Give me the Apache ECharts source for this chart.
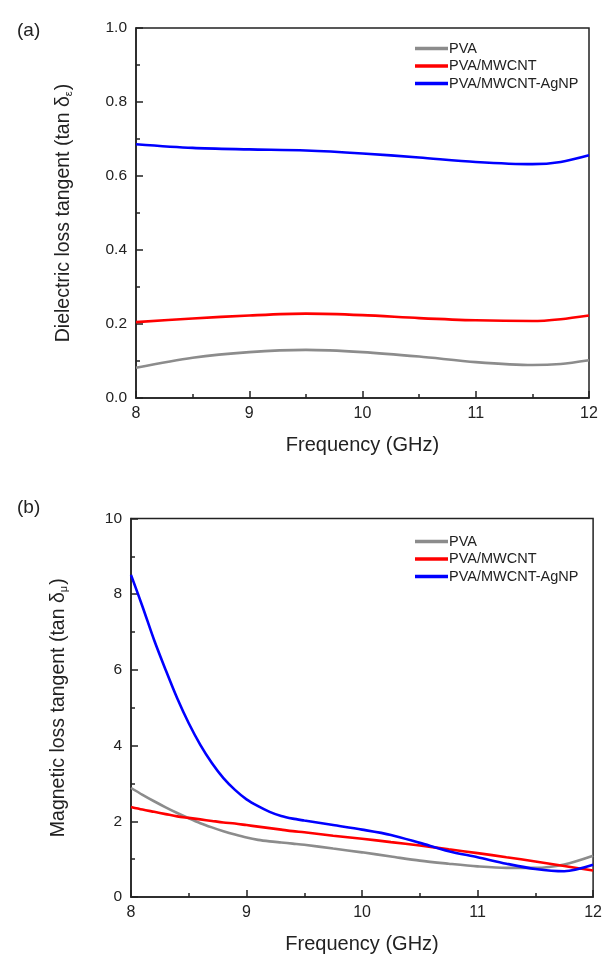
<!DOCTYPE html>
<html>
<head>
<meta charset="utf-8">
<script src="https://cdn.jsdelivr.net/npm/echarts@6/dist/echarts.min.js"></script>
<style>
  html, body { margin: 0; padding: 0; background: #fff; }
  #chart { width: 605px; height: 955px; }
</style>
</head>
<body>
<div id="chart"></div>
<script>
var chart = echarts.init(document.getElementById('chart'));

var seriesNames = ['PVA', 'PVA/MWCNT', 'PVA/MWCNT-AgNP'];
var seriesColors = ['#8c8c8c', '#ff0000', '#0000ff'];

// (a) dielectric loss tangent
var freqA = [8, 8.5, 9, 9.5, 10, 10.5, 11, 11.5, 11.75, 12];
var pvaA = [0.082, 0.109, 0.124, 0.130, 0.124, 0.112, 0.097, 0.089, 0.092, 0.102];
var mwcntA = [0.205, 0.215, 0.223, 0.228, 0.224, 0.216, 0.210, 0.208, 0.213, 0.223];
var agnpA = [0.686, 0.676, 0.672, 0.669, 0.661, 0.650, 0.638, 0.632, 0.638, 0.656];

// (b) magnetic loss tangent
var freqB = [8, 8.1, 8.2, 8.3, 8.4, 8.5, 8.6, 8.7, 8.8, 8.9, 9, 9.1, 9.2, 9.3, 9.4, 9.5, 9.75, 10, 10.25, 10.5, 10.75, 11, 11.25, 11.5, 11.75, 12];
var pvaB = [2.88, 2.70, 2.53, 2.37, 2.22, 2.08, 1.95, 1.84, 1.74, 1.65, 1.57, 1.51, 1.47, 1.44, 1.41, 1.38, 1.28, 1.18, 1.07, 0.96, 0.88, 0.81, 0.77, 0.77, 0.86, 1.09];
var mwcntB = [2.38, 2.31, 2.25, 2.19, 2.13, 2.09, 2.05, 2.01, 1.97, 1.94, 1.90, 1.86, 1.82, 1.78, 1.74, 1.71, 1.62, 1.54, 1.45, 1.36, 1.26, 1.16, 1.05, 0.94, 0.82, 0.70];
var agnpB = [8.51, 7.67, 6.79, 6.00, 5.25, 4.59, 4.02, 3.54, 3.14, 2.83, 2.58, 2.40, 2.25, 2.14, 2.07, 2.02, 1.90, 1.78, 1.64, 1.43, 1.21, 1.05, 0.88, 0.74, 0.68, 0.85];

var font = 'Liberation Sans, Arial, sans-serif';
var axisColor = '#222';

function pairs(xs, ys) {
  return xs.map(function (x, i) { return [x, ys[i]]; });
}

function xAxisCfg(gridIndex) {
  return {
    type: 'value', gridIndex: gridIndex, min: 8, max: 12, interval: 1,
    name: 'Frequency (GHz)', nameLocation: 'middle', nameGap: 37,
    nameTextStyle: { fontFamily: font, fontSize: 20, color: axisColor },
    axisLine: { onZero: false, lineStyle: { color: axisColor, width: 1.5 } },
    axisTick: { inside: true, length: 7, lineStyle: { color: axisColor, width: 1.5 } },
    minorTick: { show: true, splitNumber: 2, length: 4, lineStyle: { color: axisColor, width: 1.5 } },
    axisLabel: { fontFamily: font, fontSize: 16, color: axisColor, margin: 8 },
    splitLine: { show: false }
  };
}

function yAxisCfg(gridIndex, max, interval, nameMain, sub, digits) {
  return {
    type: 'value', gridIndex: gridIndex, min: 0, max: max, interval: interval,
    name: '{m|' + nameMain + '}{s|' + sub + '}{m|)}',
    nameLocation: 'middle', nameGap: 62, nameRotate: 90,
    nameTextStyle: {
      rich: {
        m: { fontFamily: font, fontSize: 19.5, color: axisColor },
        s: { fontFamily: font, fontSize: 11, color: axisColor, padding: [10, 1, 0, 0] }
      }
    },
    axisLine: { lineStyle: { color: axisColor, width: 1.5 } },
    axisTick: { inside: true, length: 7, lineStyle: { color: axisColor, width: 1.5 } },
    minorTick: { show: true, splitNumber: 2, length: 4, lineStyle: { color: axisColor, width: 1.5 } },
    axisLabel: {
      fontFamily: font, fontSize: 15.5, color: axisColor, margin: 9,
      formatter: function (v) { return v.toFixed(digits); }
    },
    splitLine: { show: false }
  };
}

function lineSeries(name, idx, data, axisIdx) {
  return {
    name: name, type: 'line', xAxisIndex: axisIdx, yAxisIndex: axisIdx,
    data: data, smooth: 0.3, symbol: 'none',
    lineStyle: { color: seriesColors[idx], width: 2.6 },
    itemStyle: { color: seriesColors[idx] }
  };
}

function legendCfg(top) {
  return {
    data: seriesNames, orient: 'vertical', left: 410, top: top,
    icon: 'rect', itemWidth: 33, itemHeight: 3.5, itemGap: 2.5,
    textStyle: { fontFamily: font, fontSize: 14.5, color: axisColor, padding: [0, 0, 0, -4] }
  };
}

var option = {
  backgroundColor: '#fff',
  animation: false,
  title: [
    { text: '(a)', left: 12, top: 16, textStyle: { fontFamily: font, fontSize: 19, fontWeight: 'normal', color: axisColor } },
    { text: '(b)', left: 12, top: 493, textStyle: { fontFamily: font, fontSize: 19, fontWeight: 'normal', color: axisColor } }
  ],
  legend: [legendCfg(36), legendCfg(529)],
  grid: [
    { left: 136, right: 16, top: 28, height: 370, show: true, borderColor: axisColor, borderWidth: 1.5, backgroundColor: 'transparent' },
    { left: 131, right: 11, top: 518.5, height: 379, show: true, borderColor: axisColor, borderWidth: 1.5, backgroundColor: 'transparent' }
  ],
  xAxis: [xAxisCfg(0), xAxisCfg(1)],
  yAxis: [
    yAxisCfg(0, 1, 0.2, 'Dielectric loss tangent (tan δ', 'ε', 1),
    yAxisCfg(1, 10, 2, 'Magnetic loss tangent (tan δ', 'μ', 0)
  ],
  series: [
    lineSeries(seriesNames[0], 0, pairs(freqA, pvaA), 0),
    lineSeries(seriesNames[1], 1, pairs(freqA, mwcntA), 0),
    lineSeries(seriesNames[2], 2, pairs(freqA, agnpA), 0),
    lineSeries(seriesNames[0], 0, pairs(freqB, pvaB), 1),
    lineSeries(seriesNames[1], 1, pairs(freqB, mwcntB), 1),
    lineSeries(seriesNames[2], 2, pairs(freqB, agnpB), 1)
  ]
};

chart.setOption(option);
</script>
</body>
</html>
